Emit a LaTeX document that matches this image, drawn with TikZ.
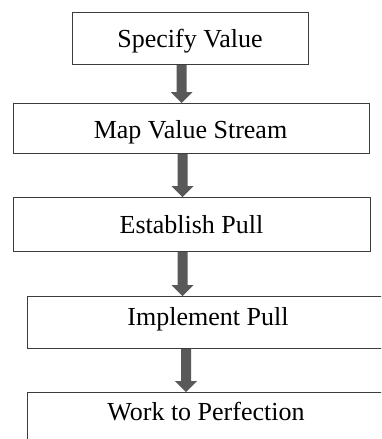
\documentclass[tikz,border=0pt]{standalone}
\usepackage{fontspec}
\setmainfont{Liberation Serif}
\usetikzlibrary{calc}

\definecolor{framegray}{HTML}{3C3C3C}
\definecolor{arrowgray}{HTML}{595959}

\tikzset{
  stagebox/.style={draw=framegray, line width=1.1pt, fill=white, rectangle,
    inner sep=0pt, anchor=north west},
  stagetext/.style={inner sep=0pt, text height=17.2pt, text depth=0pt,
    font=\fontsize{26}{30}\selectfont, text=black},
  fatarrow/.style={fill=arrowgray, draw=none},
}

% block arrow pointing down from the bottom of #1 to the top of #2, centred at x=#3
\newcommand{\blockarrow}[3]{%
  \path[fatarrow] let \p1=(#1.south), \p2=(#2.north) in
    (#3pt-5pt,\y1) -- (#3pt+5pt,\y1) -- (#3pt+5pt,\y2+11pt)
    -- (#3pt+11pt,\y2+11pt) -- (#3pt,\y2) -- (#3pt-11pt,\y2+11pt)
    -- (#3pt-5pt,\y2+11pt) -- cycle;}

\begin{document}
\begin{tikzpicture}[x=1pt,y=-1pt]
  \useasboundingbox (0,0) rectangle (381,439);
  \clip (0,0) rectangle (381,439);

  % the five stages
  \node[stagebox, minimum width=236pt, minimum height=52pt] (b1) at (72,12) {};
  \node[stagebox, minimum width=356pt, minimum height=50pt] (b2) at (13,103) {};
  \node[stagebox, minimum width=357pt, minimum height=54pt] (b3) at (13,197) {};
  \node[stagebox, minimum width=362pt, minimum height=52pt] (b4) at (27,296) {};
  \node[stagebox, minimum width=362pt, minimum height=52pt] (b5) at (27,392) {};

  \node[stagetext] (t1) at (190,38.5) {Specify Value};
  \node[stagetext] (t2) at (190.5,130) {Map Value Stream};
  \node[stagetext] (t3) at (191.5,225) {Establish Pull};
  \node[stagetext] (t4) at (208,316.5) {Implement Pull};
  \node[stagetext] (t5) at (206,411.5) {Work to Perfection};

  % arrows between the stages
  \blockarrow{b1}{b2}{181.5}
  \blockarrow{b2}{b3}{182.5}
  \blockarrow{b3}{b4}{182.5}
  \blockarrow{b4}{b5}{186}
\end{tikzpicture}
\end{document}
